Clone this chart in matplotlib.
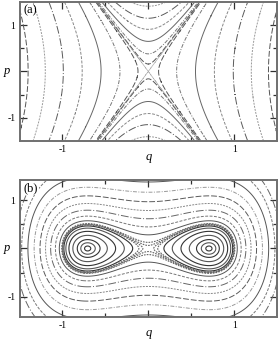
import numpy as np
import matplotlib
matplotlib.use("Agg")
import matplotlib.pyplot as plt
from matplotlib.ticker import FixedLocator

plt.rcParams['font.family'] = ['Liberation Serif', 'DejaVu Serif']

# (a) saddle: H = p^2 - A q^2
A_SADDLE = 6.25
side_q0 = [0.12, 0.33, 0.55, 0.77, 0.99, 1.2, 1.4]      # vertex positions of left/right branches
top_p0 = [0.16, 0.38, 0.65, 0.91, 1.15, 1.41]           # vertex heights of upper/lower branches

# (b) double well: H = p^2/2 - q^2/2 + q^4/2
well_levels = [-0.1237, -0.118, -0.108, -0.088, -0.062, -0.036, -0.016]
sep_levels = [-0.006, -0.002, 0.002, 0.008]
outer_levels = [0.04, 0.1, 0.19, 0.31, 0.47, 0.68, 0.95, 1.28, 1.65]

styles = [(0, (6, 2)), (0, (4, 1.5, 1, 1.5)), '-', (0, (3, 1.5)), (0, (8, 2, 1, 2)), (0, (2, 1.2))]
greys = ['#555555', '#777777', '#666666', '#888888', '#5a5a5a', '#999999']


def frame(ax, ylim, qpad):
        ax.set_xlim(-1.5, 1.5)
        ax.set_ylim(*ylim)
        for s in ax.spines.values():
                s.set_color('#707070')
                s.set_linewidth(1.4)
        ax.xaxis.set_major_locator(FixedLocator([-1, 0, 1]))
        ax.yaxis.set_major_locator(FixedLocator([-1, 0, 1]))
        ax.xaxis.set_minor_locator(FixedLocator([-0.5, 0.5]))
        ax.yaxis.set_minor_locator(FixedLocator([-0.5, 0.5]))
        ax.set_xticklabels(['-1', '', '1'])
        ax.set_yticklabels(['-1', '', '1'])
        ax.tick_params(which='both', direction='in', top=True, right=True,
                       color='#303030', labelsize=7, pad=3)
        ax.tick_params(which='major', length=5, width=0.9)
        ax.tick_params(which='minor', length=3, width=0.9)
        ax.set_xlabel('q', fontstyle='italic', fontsize=9, labelpad=qpad)
        ax.set_ylabel('p', fontstyle='italic', fontsize=9, rotation=0, va='center', ha='center')
        ax.yaxis.set_label_coords(-0.048, 0.5)


def main():
        fig = plt.figure(figsize=(2.79, 3.41), dpi=100)
        ax1 = fig.add_axes([0.07, 0.587, 0.923, 0.407])
        ax2 = fig.add_axes([0.07, 0.0704, 0.923, 0.4018])

        # panel (a)
        q = np.linspace(-1.5, 1.5, 601)
        p = np.linspace(-1.5, 1.5, 601)
        Q, P = np.meshgrid(q, p)
        H = P ** 2 - A_SADDLE * Q ** 2
        k = 0
        for p0 in top_p0:
                ax1.contour(Q, P, H, levels=[p0 ** 2], colors=greys[k % 6],
                            linestyles=[styles[k % 6]], linewidths=0.7)
                k += 1
        for q0 in side_q0:
                ax1.contour(Q, P, H, levels=[-A_SADDLE * q0 ** 2], colors=greys[k % 6],
                            linestyles=[styles[k % 6]], linewidths=0.7)
                k += 1
        ax1.contour(Q, P, H, levels=[0.0], colors='#777777', linewidths=0.5, alpha=0.6)
        frame(ax1, (-1.5, 1.5), -2)
        ax1.text(0.015, 0.985, '(a)', transform=ax1.transAxes, fontsize=9, va='top', ha='left')

        # panel (b)
        p2 = np.linspace(-1.45, 1.45, 601)
        Q2, P2 = np.meshgrid(q, p2)
        H2 = P2 ** 2 / 2 - Q2 ** 2 / 2 + Q2 ** 4 / 2
        for i, e in enumerate(well_levels):
                ax2.contour(Q2, P2, H2, levels=[e], colors='#333333' if i % 2 == 0 else '#555555',
                            linestyles=['-'], linewidths=0.8)
        for i, e in enumerate(sep_levels):
                ax2.contour(Q2, P2, H2, levels=[e], colors='#666666',
                            linestyles=[(0, (1.5, 1))], linewidths=0.8)
        for i, e in enumerate(outer_levels):
                ax2.contour(Q2, P2, H2, levels=[e], colors=greys[i % 6],
                            linestyles=[styles[(i + 2) % 6]], linewidths=0.7)
        frame(ax2, (-1.42, 1.42), -2)
        ax2.text(0.015, 0.985, '(b)', transform=ax2.transAxes, fontsize=9, va='top', ha='left',
                 bbox=dict(facecolor='white', edgecolor='none', pad=0.5))

        fig.savefig('out.png', dpi=100)


if __name__ == "__main__":
        main()
